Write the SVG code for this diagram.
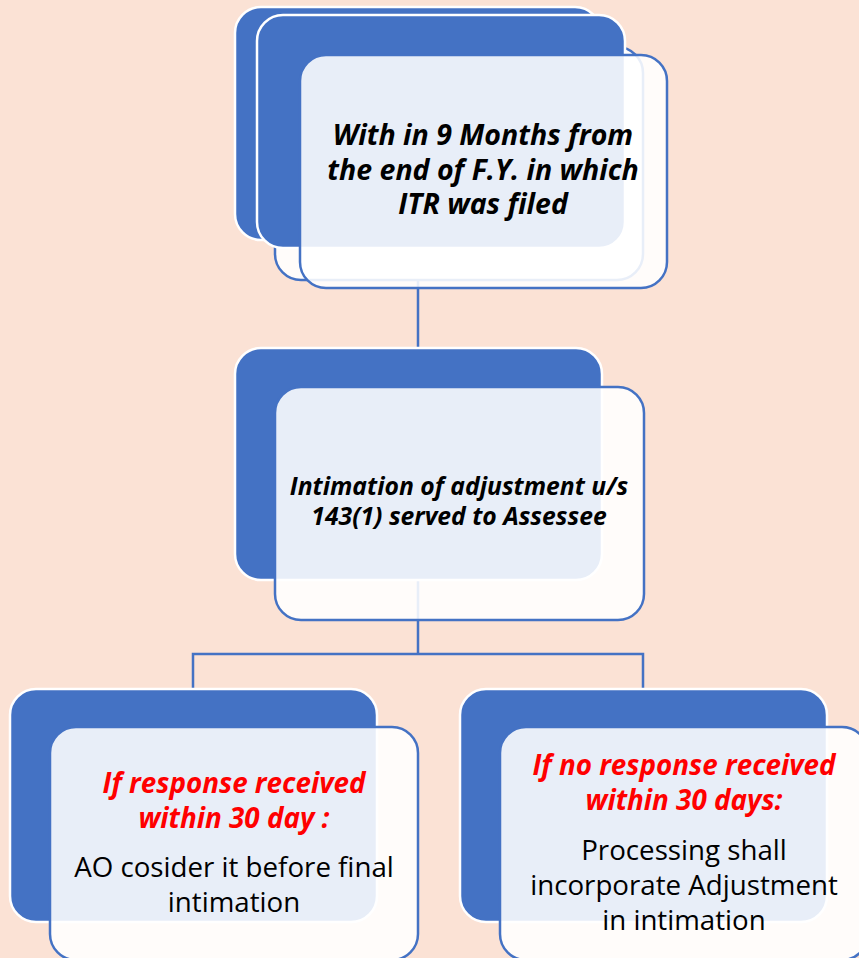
<svg xmlns="http://www.w3.org/2000/svg" width="859" height="958" viewBox="0 0 859 958">
<style>
.bg{fill:#FBE2D5}
.blue{fill:#4472C4;stroke:#FFFFFF;stroke-width:2.5}
.light{fill:#FFFFFF;fill-opacity:0.88;stroke:#4472C4;stroke-width:2.5}
.conn{fill:none;stroke:#4472C4;stroke-width:2.5}
.bi{font-family:"Open Sans","Liberation Sans",sans-serif;font-weight:bold;font-style:italic;fill:#000000;text-anchor:middle}
.red{font-family:"Open Sans","Liberation Sans",sans-serif;font-weight:bold;font-style:italic;fill:#FF0000;text-anchor:middle;font-size:27.8px}
.reg{font-family:"Open Sans","Liberation Sans",sans-serif;fill:#000000;text-anchor:middle;font-size:27.7px}
</style>
<rect class="bg" x="0" y="0" width="859" height="958"/>
<g id="connectors">
<path class="conn" d="M418,280 V654"/>
<path class="conn" d="M193,688 V654 H643 V688"/>
</g>
<g id="node1">
<rect class="blue" x="235" y="7" width="366" height="233" rx="26"/>
<rect class="light" x="275" y="47" width="368" height="233" rx="26"/>
<rect class="blue" x="257" y="15" width="368" height="233" rx="26"/>
<rect class="light" x="300" y="55" width="367" height="233" rx="26"/>
<text class="bi" font-size="28.5" x="483" y="145">With in 9 Months from</text>
<text class="bi" font-size="28.5" x="483" y="180">the end of F.Y. in which</text>
<text class="bi" font-size="28.5" x="483" y="214">ITR was filed</text>
</g>
<g id="node2">
<rect class="blue" x="235" y="348" width="367" height="232" rx="26"/>
<rect class="light" x="275" y="387" width="369" height="233" rx="26"/>
<text class="bi" font-size="24.7" x="459" y="495">Intimation of adjustment u/s</text>
<text class="bi" font-size="24.7" x="459" y="525">143(1) served to Assessee</text>
</g>
<g id="node3">
<rect class="blue" x="10" y="689" width="367" height="233" rx="26"/>
<rect class="light" x="50" y="727" width="368" height="233" rx="26"/>
<text class="red" x="234" y="793">If response received</text>
<text class="red" x="234" y="828">within 30 day :</text>
<text class="reg" x="234" y="877">AO cosider it before final</text>
<text class="reg" x="234" y="912">intimation</text>
</g>
<g id="node4">
<rect class="blue" x="460" y="689" width="367" height="233" rx="26"/>
<rect class="light" x="500" y="727" width="368" height="233" rx="26"/>
<text class="red" x="684" y="775">If no response received</text>
<text class="red" x="684" y="810">within 30 days:</text>
<text class="reg" x="684" y="860">Processing shall</text>
<text class="reg" x="684" y="895">incorporate Adjustment</text>
<text class="reg" x="684" y="930">in intimation</text>
</g>
</svg>
